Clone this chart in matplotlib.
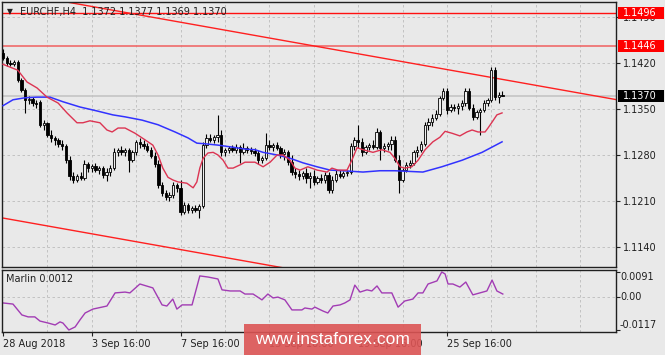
import numpy as np
import matplotlib
matplotlib.use("Agg")
import matplotlib.pyplot as plt
from matplotlib.patches import Rectangle
from matplotlib.transforms import blended_transform_factory

# EURCHF H4 candles, prices in pips (1/10000)
opens = [11435, 11428, 11420, 11418, 11422, 11394, 11379, 11364, 11365, 11359,
         11361, 11326, 11329, 11310, 11306, 11303, 11297, 11294, 11272, 11248,
         11242, 11248, 11245, 11266, 11260, 11263, 11257, 11260, 11250, 11254,
         11260, 11284, 11288, 11284, 11288, 11272, 11284, 11300, 11297, 11294,
         11288, 11278, 11266, 11234, 11222, 11216, 11219, 11234, 11230, 11193,
         11204, 11196, 11199, 11196, 11202, 11295, 11306, 11303, 11307, 11310,
         11284, 11288, 11291, 11288, 11292, 11284, 11291, 11288, 11286, 11283,
         11272, 11275, 11295, 11292, 11295, 11291, 11281, 11284, 11269, 11254,
         11251, 11248, 11253, 11245, 11248, 11239, 11245, 11242, 11250, 11227,
         11242, 11251, 11248, 11253, 11254, 11294, 11303, 11300, 11284, 11292,
         11295, 11292, 11315, 11291, 11294, 11297, 11303, 11272, 11242, 11257,
         11265, 11268, 11284, 11288, 11297, 11326, 11330, 11336, 11342, 11367,
         11377, 11348, 11353, 11352, 11355, 11359, 11377, 11352, 11338, 11345,
         11348, 11359, 11364, 11409, 11368, 11372]
highs = [11441, 11431, 11425, 11425, 11425, 11397, 11382, 11370, 11368, 11364,
         11364, 11333, 11330, 11318, 11309, 11306, 11303, 11297, 11278, 11254,
         11251, 11254, 11272, 11269, 11266, 11268, 11263, 11263, 11260, 11265,
         11291, 11291, 11294, 11291, 11291, 11288, 11303, 11306, 11303, 11298,
         11292, 11284, 11272, 11239, 11227, 11224, 11239, 11237, 11242, 11208,
         11207, 11202, 11204, 11205, 11300, 11312, 11312, 11310, 11341, 11318,
         11291, 11294, 11295, 11297, 11295, 11298, 11294, 11292, 11291, 11288,
         11278, 11313, 11303, 11298, 11300, 11294, 11289, 11288, 11280, 11260,
         11257, 11256, 11260, 11254, 11257, 11248, 11251, 11254, 11254, 11248,
         11257, 11257, 11256, 11257, 11298, 11307, 11326, 11306, 11295, 11298,
         11303, 11321, 11318, 11298, 11300, 11309, 11309, 11280, 11260, 11269,
         11272, 11288, 11294, 11301, 11330, 11336, 11342, 11348, 11370, 11382,
         11382, 11358, 11358, 11359, 11364, 11382, 11382, 11358, 11348, 11352,
         11364, 11367, 11414, 11414, 11376, 11377]
lows = [11425, 11415, 11415, 11415, 11391, 11376, 11344, 11358, 11355, 11352,
        11323, 11318, 11307, 11300, 11295, 11292, 11288, 11268, 11242, 11237,
        11239, 11242, 11242, 11254, 11254, 11254, 11251, 11245, 11241, 11248,
        11257, 11278, 11280, 11278, 11254, 11269, 11280, 11291, 11289, 11284,
        11275, 11262, 11230, 11218, 11211, 11210, 11215, 11224, 11189, 11190,
        11192, 11192, 11193, 11184, 11199, 11291, 11300, 11298, 11300, 11278,
        11278, 11283, 11284, 11283, 11268, 11281, 11283, 11281, 11278, 11266,
        11268, 11272, 11288, 11286, 11288, 11275, 11272, 11265, 11250, 11245,
        11242, 11244, 11237, 11230, 11234, 11236, 11237, 11237, 11222, 11222,
        11239, 11245, 11245, 11248, 11251, 11288, 11291, 11278, 11281, 11288,
        11289, 11289, 11272, 11284, 11288, 11288, 11269, 11222, 11239, 11254,
        11260, 11265, 11277, 11284, 11294, 11318, 11324, 11333, 11339, 11364,
        11342, 11345, 11347, 11342, 11348, 11355, 11348, 11333, 11335, 11310,
        11345, 11355, 11361, 11364, 11359, 11369]
closes = [11428, 11420, 11418, 11422, 11394, 11379, 11364, 11365, 11359, 11358,
          11326, 11329, 11310, 11306, 11303, 11297, 11294, 11272, 11248, 11242,
          11248, 11245, 11266, 11260, 11263, 11257, 11260, 11250, 11254, 11260,
          11284, 11288, 11284, 11288, 11272, 11284, 11300, 11297, 11294, 11288,
          11278, 11266, 11234, 11222, 11216, 11219, 11234, 11230, 11193, 11204,
          11196, 11199, 11196, 11202, 11295, 11306, 11303, 11307, 11310, 11284,
          11288, 11291, 11288, 11292, 11284, 11291, 11288, 11286, 11283, 11272,
          11275, 11295, 11292, 11295, 11291, 11281, 11284, 11269, 11254, 11251,
          11248, 11253, 11245, 11248, 11239, 11245, 11242, 11250, 11227, 11242,
          11251, 11248, 11253, 11254, 11294, 11303, 11300, 11284, 11292, 11295,
          11292, 11315, 11291, 11294, 11297, 11303, 11272, 11242, 11257, 11265,
          11268, 11284, 11288, 11297, 11326, 11330, 11336, 11342, 11367, 11377,
          11348, 11353, 11352, 11355, 11359, 11377, 11352, 11338, 11345, 11348,
          11359, 11364, 11409, 11368, 11371, 11370]

# moving averages (bar index, pips)
red_ma_bar = [0, 4, 6.5, 9.2, 11.9, 14.9, 17.3, 20, 21.6, 23.5, 26.2, 28.1, 29.5, 31.1, 33,
              35.7, 38.4, 40.5, 41.9, 43.2, 44.6, 45.9, 47.3, 49.7, 51.4, 52.4, 53.2, 54.1,
              55.4, 56.8, 58.1, 59.5, 60.8, 62.2, 64.1, 65.4, 68.1, 70.3, 72.2, 74.1, 75.7,
              77.6, 78.9, 80.3, 82.4, 84.9, 87.6, 88.9, 90.5, 93, 94.3, 95.7, 97.3, 100,
              102.4, 104.6, 105.9, 107.3, 108.6, 110.5, 112.2, 114.1, 116.2, 118.1, 119.5,
              121.4, 123.5, 125.4, 126.8, 128.4, 130.3, 131.1, 132.2, 133.5, 134.9]
red_ma = [11418, 11409, 11391, 11382, 11368, 11359, 11344, 11329, 11329, 11332, 11329, 11318,
          11315, 11321, 11321, 11313, 11303, 11295, 11280, 11260, 11246, 11242, 11239, 11237,
          11230, 11239, 11260, 11275, 11283, 11284, 11280, 11272, 11260, 11260, 11265, 11269,
          11269, 11262, 11269, 11280, 11280, 11272, 11260, 11257, 11262, 11257, 11254, 11260,
          11257, 11257, 11272, 11291, 11288, 11284, 11288, 11284, 11275, 11262, 11260, 11262,
          11272, 11288, 11300, 11307, 11316, 11313, 11309, 11315, 11318, 11315, 11315, 11321,
          11330, 11341, 11344]
blue_ma_bar = [0, 2.7, 5.9, 9.2, 12.7, 16.2, 20.8, 25.4, 29.7, 33, 37.6, 41.9, 46.5, 50, 52.4,
               54.6, 58.1, 61.9, 65.4, 68.1, 70.3, 74.1, 77.6, 81.1, 84.9, 88.4, 91.9, 97.3,
               101.9, 105.9, 113.5, 118.6, 124.1, 129.5, 134.9]
blue_ma = [11355, 11364, 11367, 11368, 11368, 11361, 11353, 11347, 11341, 11338, 11333, 11326,
           11315, 11306, 11298, 11297, 11295, 11292, 11289, 11288, 11284, 11280, 11275, 11268,
           11262, 11257, 11256, 11254, 11256, 11256, 11254, 11262, 11272, 11284, 11300]

# Marlin oscillator (bar index, value)
marlin_bar = [0, 2.7, 5.1, 6.8, 8.6, 10, 12.2, 14.1, 15.4, 16.2, 17.8, 19.5, 20.8, 22.2, 24.3,
              28.1, 30.3, 33, 34.3, 37, 40.5, 43, 44.3, 45.9, 47, 48.4, 51.1, 53.2, 55.4, 58.1,
              59.2, 61.4, 64.1, 65.4, 67.6, 70, 71.6, 73, 74.3, 76.2, 78.1, 80.8, 81.6, 83.5,
              84.3, 86.5, 87.8, 89.2, 91.1, 92.4, 93.8, 95.1, 96.5, 98.4, 99.7, 101.1, 102.4,
              105.1, 106.8, 108.6, 110.8, 112.2, 113.5, 114.9, 117.3, 118.6, 119.5, 120.3,
              121.6, 123.5, 125.1, 127, 128.9, 130.8, 132.2, 133.5, 135.1]
marlin = [-0.0020, -0.0024, -0.0063, -0.0070, -0.0070, -0.0085, -0.0092, -0.0099, -0.0088,
          -0.0092, -0.0117, -0.0106, -0.0081, -0.0056, -0.0042, -0.0031, 0.0016, 0.0019,
          0.0016, 0.0048, 0.0034, -0.0027, -0.0031, -0.0006, -0.0042, -0.0027, -0.0027,
          0.0077, 0.0073, 0.0066, 0.0027, 0.0023, 0.0023, 0.0012, 0.0012, -0.0009, 0.0012,
          -0.0002, 0.0001, -0.0009, -0.0045, -0.0045, -0.0038, -0.0042, -0.0035, -0.0049,
          -0.0056, -0.0031, -0.0027, -0.0020, -0.0009, 0.0044, 0.0019, 0.0027, 0.0023,
          0.0041, 0.0016, 0.0016, -0.0035, -0.0013, -0.0006, 0.0016, 0.0016, 0.0048, 0.0059,
          0.0091, 0.0084, 0.0048, 0.0048, 0.0037, 0.0055, 0.0009, 0.0016, 0.0023, 0.0062,
          0.0023, 0.0012]

# channel lines and levels
trend_bars = [0, 166]
upper_trend = [1.1530, 1.1364]
lower_trend = [1.1184, 1.1018]
level_hi = 1.1496
level_mid = 1.1446
last_price = 1.1370

price_ticks = [1.1140, 1.1210, 1.1280, 1.1350, 1.1420, 1.1490]
date_ticks = [0, 24, 48, 72, 96, 120]
date_labels = ['28 Aug 2018', '3 Sep 16:00', '7 Sep 16:00', '13 Sep 16:00',
               '19 Sep 16:00', '25 Sep 16:00']
marlin_ticks = [-0.0117, 0.0, 0.0091]
marlin_labels = ['-0.0117', '0.00', '0.0091']

bg = '#e9e9e9'
grid_kw = dict(color='#bcbcbc', lw=0.6, ls=(0, (3, 3)))
plt.rcParams['font.family'] = ['DejaVu Sans']

o = np.array(opens) / 1e4
h = np.array(highs) / 1e4
l = np.array(lows) / 1e4
c = np.array(closes) / 1e4
x = np.arange(len(c))

fig = plt.figure(figsize=(6.65, 3.55), dpi=100)
fig.patch.set_facecolor(bg)
ax = fig.add_axes([2 / 665, 1 - 267 / 355, 614 / 665, 265 / 355])
ax2 = fig.add_axes([2 / 665, 1 - 332 / 355, 614 / 665, 62 / 355])
for a in (ax, ax2):
    a.set_facecolor(bg)
    for s in a.spines.values():
        s.set_color('#202020')
        s.set_linewidth(1)
    a.set_xlim(-0.27, 165.7)
    for gx in range(12, 166, 12):
        a.axvline(gx, zorder=0, **grid_kw)

# main price panel
ax.set_ylim(1.11095, 1.15128)
ax.set_yticks(price_ticks)
ax.set_yticklabels(['%.4f' % p for p in price_ticks])
ax.yaxis.tick_right()
ax.tick_params(axis='y', direction='out', length=3, pad=2, labelsize=7,
               colors='#202020')
ax.set_xticks([])
for p in price_ticks:
    ax.axhline(p, zorder=0, **grid_kw)

ax.axhline(last_price, color='#c4c4c4', lw=1.2, zorder=1)
ax.axhline(level_hi, color='#ff1010', lw=1, zorder=2)
ax.axhline(level_mid, color='#f06a6a', lw=1.2, zorder=2)
ax.plot(trend_bars, upper_trend, color='#ff2020', lw=1, zorder=2)
ax.plot(trend_bars, lower_trend, color='#ff2020', lw=1, zorder=2)

up = c >= o
body_lo = np.minimum(o, c)
body_h = np.maximum(np.abs(c - o), 0.00008)
ax.vlines(x, l, h, color='black', lw=0.8, zorder=3)
ax.bar(x[up], body_h[up], 0.62, body_lo[up], color='#efefef', edgecolor='black',
       lw=0.6, zorder=4)
ax.bar(x[~up], body_h[~up], 0.62, body_lo[~up], color='black', edgecolor='black',
       lw=0.6, zorder=4)

ax.plot(np.array(blue_ma_bar), np.array(blue_ma) / 1e4, color='#3232ff', lw=1.1, zorder=5)
ax.plot(np.array(red_ma_bar), np.array(red_ma) / 1e4, color='#dc3452', lw=1, zorder=5)

# price tags on the right axis
tr = blended_transform_factory(ax.transAxes, ax.transData)
for price, face in ((level_hi, '#ff0000'), (level_mid, '#ff0000'), (last_price, 'black')):
    ax.add_patch(Rectangle((1.0033, price - 0.00092), 0.075, 0.00184, transform=tr,
                           facecolor=face, edgecolor='none', clip_on=False, zorder=10))
    ax.text(1.0114, price, '%.4f' % price, transform=tr, color='white', fontsize=7,
            va='center', ha='left', zorder=11, clip_on=False)

fig.text(7 / 665, 1 - 12 / 355, '\u25bc', fontsize=5.5, va='center', color='#202020')
fig.text(20 / 665, 1 - 12 / 355, 'EURCHF,H4  1.1372 1.1377 1.1369 1.1370', fontsize=7,
         va='center', color='#202020')

# Marlin panel
ax2.plot(marlin_bar, marlin, color='#a23cb4', lw=1)
ax2.set_ylim(-0.01242, 0.00982)
ax2.axhline(0, zorder=0, **grid_kw)
ax2.yaxis.tick_right()
ax2.set_yticks(marlin_ticks)
ax2.set_yticklabels([])
ax2.tick_params(axis='y', direction='out', length=3, colors='#202020')
tr2 = blended_transform_factory(ax2.transAxes, ax2.transData)
for v, lab, va in zip(marlin_ticks, marlin_labels, ('bottom', 'center', 'top')):
    ax2.text(1.0065, v, lab, transform=tr2, fontsize=7, va=va, ha='left',
             color='#202020', clip_on=False)
ax2.text(0.007, 0.855, 'Marlin 0.0012', transform=ax2.transAxes, fontsize=7,
         va='center', color='#202020')

ax2.set_xticks(date_ticks)
ax2.set_xticklabels(date_labels, ha='left')
ax2.tick_params(axis='x', direction='out', length=3, pad=2, labelsize=7,
                colors='#202020')

# watermark
fig.add_artist(Rectangle((244 / 665, 0), 177 / 665, 31 / 355, transform=fig.transFigure,
                         facecolor='#dc5454', edgecolor='none', alpha=0.9, zorder=20))
fig.text(332.5 / 665, 1 - 339 / 355, 'www.instaforex.com', fontsize=12.5, color='white',
         family='Liberation Sans', ha='center', va='center', zorder=21)

fig.savefig('out.png', dpi=100, facecolor=bg)
